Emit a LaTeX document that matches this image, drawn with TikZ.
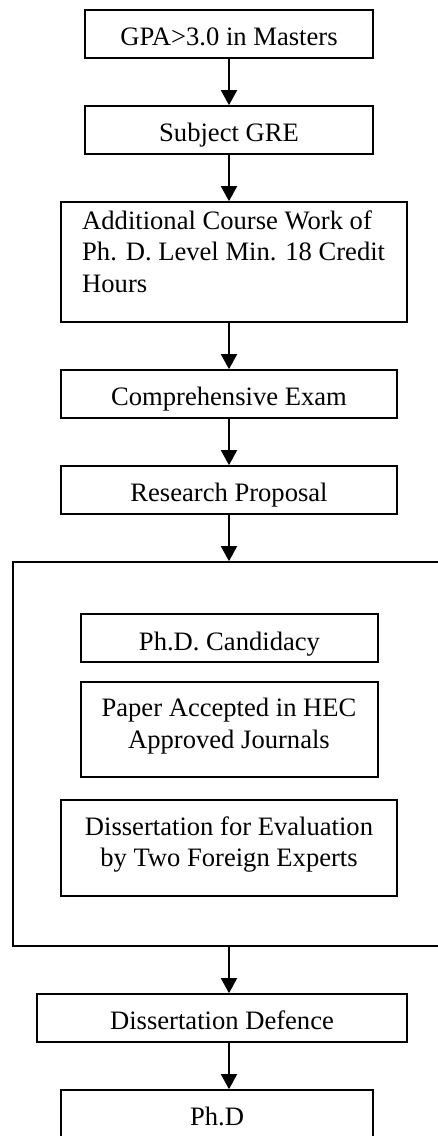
\documentclass[tikz,border=0pt]{standalone}
\usepackage{fontspec}
\setmainfont{Liberation Serif}
\usetikzlibrary{arrows.meta}
\begin{document}
\begin{tikzpicture}[x=1pt,y=-1pt,
  box/.style={draw, line width=1.7pt, rectangle, inner sep=0pt},
  txt/.style={font=\fontsize{26.6}{31.6}\selectfont, inner sep=0pt, anchor=base, align=center},
  flow/.style={line width=1.7pt, -{Triangle[length=15pt,width=16pt]}}]
\useasboundingbox (0,0) rectangle (437,1136);
\fill[white] (0,0) rectangle (437,1136);
\coordinate (ax) at (229,0);
% boxes
\node[box, minimum width=288pt, minimum height=48pt] (b1) at (229,34) {};
\node[box, minimum width=288pt, minimum height=48pt] (b2) at (229,130) {};
\node[box, minimum width=346pt, minimum height=120pt] (b3) at (234,262) {};
\node[box, minimum width=336pt, minimum height=48pt] (b4) at (229,394) {};
\node[box, minimum width=336pt, minimum height=48pt] (b5) at (229,490) {};
\node[box, minimum width=447pt, minimum height=384pt] (big) at (236.5,754) {};
\node[box, minimum width=297pt, minimum height=48pt] (b6) at (229.5,638) {};
\node[box, minimum width=297pt, minimum height=95pt] (b7) at (229.5,729.5) {};
\node[box, minimum width=336pt, minimum height=96pt] (b8) at (229,848) {};
\node[box, minimum width=370pt, minimum height=48pt] (b9) at (222,1018) {};
\node[box, minimum width=312pt, minimum height=60pt] (b10) at (217,1120) {};
% texts (multi-line nodes are anchored at the baseline of their last line)
\node[txt] (t1) at (229,45) {GPA>3.0 in Masters};
\node[txt] (t2) at (229,141.7) {Subject GRE};
\node[txt, anchor=base west, align=left] (t3) at (82,292.2) {Additional Course Work of\\Ph. D. Level Min. 18 Credit\\Hours};
\node[txt] (t4) at (229,405) {Comprehensive Exam};
\node[txt] (t5) at (229,501.7) {Research Proposal};
\node[txt] (t6) at (229.5,650) {Ph.D. Candidacy};
\node[txt] (t7) at (229,748.3) {Paper Accepted in HEC\\Approved Journals};
\node[txt] (t8) at (229,866.7) {Dissertation for Evaluation\\by Two Foreign Experts};
\node[txt] (t9) at (222,1029) {Dissertation Defence};
\node[txt] (t10) at (217,1125.7) {Ph.D};
% connectors
\draw[flow] (b1.south -| ax) -- (b2.north -| ax);
\draw[flow] (b2.south -| ax) -- (b3.north -| ax);
\draw[flow] (b3.south -| ax) -- (b4.north -| ax);
\draw[flow] (b4.south -| ax) -- (b5.north -| ax);
\draw[flow] (b5.south -| ax) -- (big.north -| ax);
\draw[flow] (big.south -| ax) -- (b9.north -| ax);
\draw[flow] (b9.south -| ax) -- (b10.north -| ax);
\end{tikzpicture}
\end{document}
